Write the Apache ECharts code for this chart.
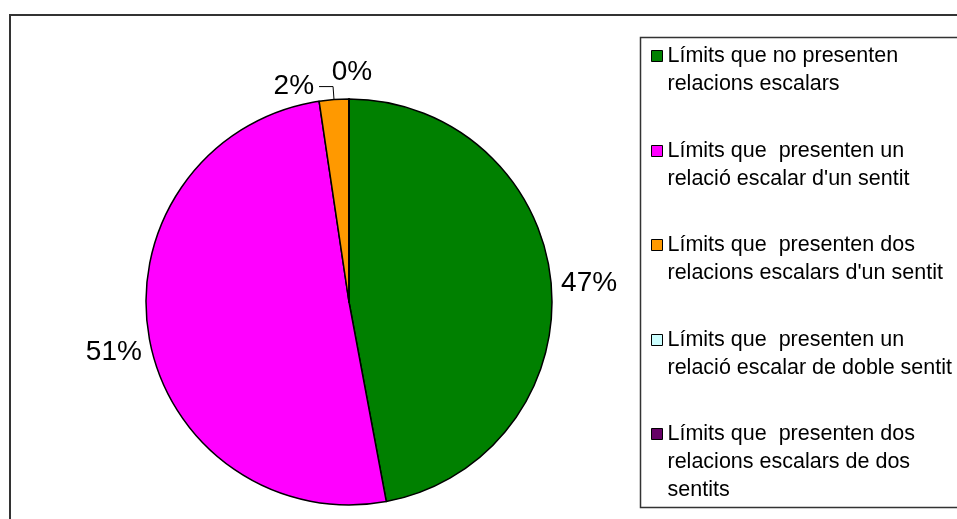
<!DOCTYPE html>
<html>
<head>
<meta charset="utf-8">
<script src="https://cdn.jsdelivr.net/npm/echarts@6/dist/echarts.min.js"></script>
<style>
  html, body { margin: 0; padding: 0; background: #fff; }
  #chart { width: 957px; height: 519px; }
</style>
</head>
<body>
<div id="chart"></div>
<script>
// categories (legend names, line breaks as in the picture)
var categories = [
  "Límits que no presenten\nrelacions escalars",
  "Límits que  presenten un\nrelació escalar d'un sentit",
  "Límits que  presenten dos\nrelacions escalars d'un sentit",
  "Límits que  presenten un\nrelació escalar de doble sentit",
  "Límits que  presenten dos\nrelacions escalars de dos\nsentits"
];
// counts
var values = [40, 43, 2, 0, 0];
var colors = ["#008000", "#ff00ff", "#ff9900", "#ccffff", "#660066"];

var total = values.reduce(function (a, b) { return a + b; }, 0);
var font = "'Liberation Sans', Arial, sans-serif";
var pieCenter = [349, 302];
var pieRadius = 203;

function pct(v) {
  return Math.round(v / total * 100) + "%";
}

// label tweaks per slice (Excel puts them a bit differently)
var labelExtra = [
  {},
  { offset: [3, 16] },
  {},
  {},
  {}
];
var lineExtra = [
  {},
  {},
  { show: true, length: 13, length2: 14 },
  {},
  {}
];

var seriesData = [];
for (var i = 0; i < categories.length; i++) {
  seriesData.push({
    name: categories[i],
    value: values[i],
    itemStyle: { color: colors[i] },
    label: labelExtra[i],
    labelLine: lineExtra[i]
  });
}

// one legend per entry; blank lines on top keep the square on the first text line
var legendTops = [56, 151, 245, 340, 434];
var legends = [];
categories.forEach(function (name, j) {
  var lines = name.split("\n").length;
  var blank = new Array(lines).join("\n");
  var h = (lines * 2 - 1) * 28;
  legends.push({
    data: [name],
    orient: "vertical",
    left: 651,
    top: legendTops[j] - h / 2,
    padding: 0,
    itemWidth: 11,
    itemHeight: 11,
    selectedMode: false,
    icon: "rect",
    itemStyle: { borderColor: "#000", borderWidth: 1 },
    formatter: function (n) { return blank + n; },
    textStyle: {
      fontFamily: font,
      fontSize: 21.5,
      lineHeight: 28,
      color: "#000"
    }
  });
});

var chart = echarts.init(document.getElementById("chart"));
chart.setOption({
  animation: false,
  backgroundColor: "#fff",
  graphic: [
    {
      type: "rect",
      shape: { x: 10, y: 15, width: 1000, height: 600 },
      style: { fill: "none", stroke: "#333", lineWidth: 2 },
      z: -1
    },
    {
      type: "rect",
      shape: { x: 640.5, y: 37.5, width: 400, height: 470 },
      style: { fill: "none", stroke: "#333", lineWidth: 1.5 },
      z: -1
    },
    // echarts never labels zero-angle slices, so the 0% sits above the pie top
    {
      type: "text",
      x: pieCenter[0] + 3,
      y: pieCenter[1] - pieRadius - 27,
      style: {
        text: pct(values[3]),
        font: "28px " + font,
        fill: "#000",
        align: "center",
        verticalAlign: "middle"
      }
    }
  ],
  legend: legends,
  series: [
    {
      type: "pie",
      center: pieCenter,
      radius: pieRadius,
      startAngle: 90,
      clockwise: true,
      avoidLabelOverlap: false,
      itemStyle: { borderColor: "#000", borderWidth: 1.5 },
      emphasis: { disabled: true },
      label: {
        show: true,
        position: "outside",
        fontFamily: font,
        fontSize: 28,
        color: "#000",
        formatter: function (p) { return pct(p.value); }
      },
      labelLine: {
        show: false,
        length: 5,
        length2: 0,
        lineStyle: { color: "#000", width: 1 }
      },
      data: seriesData
    }
  ]
});
</script>
</body>
</html>
